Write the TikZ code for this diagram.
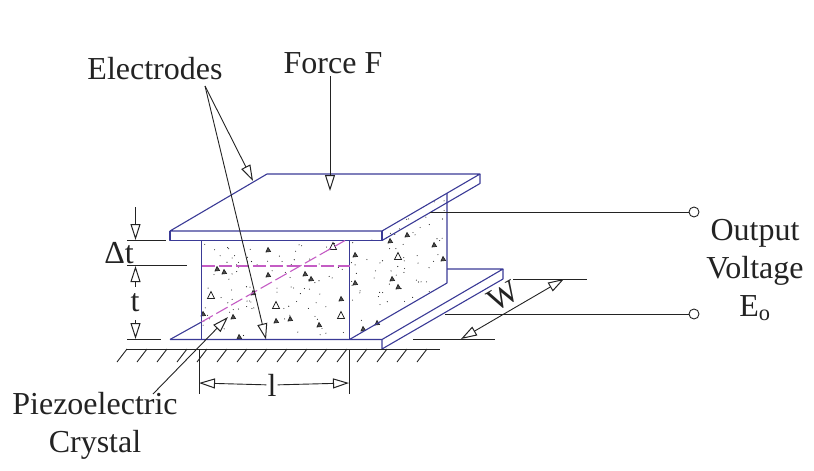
\documentclass[tikz,border=0pt]{standalone}
\usepackage{fontspec}
\setmainfont{Liberation Serif}
\usetikzlibrary{arrows.meta}
\definecolor{plateblue}{RGB}{58,58,150}
\definecolor{cutpink}{RGB}{196,92,196}
\definecolor{inkgrey}{RGB}{35,35,35}
\tikzset{
  label/.style={inner sep=1pt, text=inkgrey, font=\fontsize{32}{38}\selectfont, align=center},
  plate/.style={draw=plateblue, line width=1.1pt, line join=round},
  cut/.style={draw=cutpink, line width=1.1pt, dash pattern=on 13pt off 4pt},
  thin line/.style={draw=inkgrey, line width=0.9pt},
  pointer/.style={thin line, -{Triangle[open, fill=white, length=16pt, width=10pt, line width=1pt]}},
  both pointer/.style={thin line, {Triangle[open, fill=white, length=16pt, width=10pt, line width=1pt]}-{Triangle[open, fill=white, length=16pt, width=10pt, line width=1pt]}},
  grain/.style={draw=inkgrey, line width=0.7pt, fill=inkgrey!80},
  open grain/.style={draw=inkgrey, line width=0.8pt, fill=white},
}
\begin{document}
\begin{tikzpicture}[x=1pt, y=-1pt]
\useasboundingbox (0,0) rectangle (814,471);

% Crystal grains and dots
\pgfmathsetseed{11}
\foreach \i in {1,...,95} {
    \pgfmathsetmacro{\gx}{203+rnd*144}
    \pgfmathsetmacro{\gy}{243+rnd*94}
    \fill[inkgrey] (\gx,\gy) circle (0.55pt);
}
\foreach \i in {1,...,65} {
    \pgfmathsetmacro{\gu}{rnd}
    \pgfmathsetmacro{\gx}{351+\gu*94}
    \pgfmathsetmacro{\gy}{240-\gu*47+3+rnd*92}
    \fill[inkgrey] (\gx,\gy) circle (0.55pt);
}
\foreach \gx/\gy in {268/250, 217/269, 224/272, 268/275, 305/274, 311/279,
    355/255, 355/283, 253/293, 341/299, 203/314, 233/317,
    276/321, 290/319, 319/325, 239/337, 390/241, 407/235, 434/245, 443/259,
    392/279, 398/287, 363/329, 377/323}
    \draw[grain] (\gx-2,\gy+2) -- (\gx+2.5,\gy+1.5) -- (\gx,\gy-2.5) -- cycle;
\foreach \gx/\gy in {333/246, 211/295, 276/305, 341/315, 398/256}
    \draw[open grain] (\gx-3.5,\gy+3.5) -- (\gx+3.5,\gy+3.5) -- (\gx,\gy-3.5) -- cycle;

% Plate corners
\coordinate (tfl) at (170,231);
\coordinate (tfr) at (382,231);
\coordinate (tbr) at (480,174);
\coordinate (tbl) at (267,174);
\coordinate (bfl) at (170,339.5);
\coordinate (bfr) at (382,339.5);
\coordinate (bbr) at (503,269);

% Top electrode
\draw[plate] (tfl) -- (tbl) -- (tbr) -- (tfr) -- cycle;
\draw[plate] (tfl) -- (170,240.5) -- (382,240.5) -- (tfr);
\draw[plate] (382,240.5) -- (480,183.5) -- (tbr);

% Crystal
\draw[plate] (201.5,240.5) -- (201.5,339.5);
\draw[plate] (349.5,240.5) -- (349.5,339.5);
\draw[plate] (447,193) -- (447,283) -- (349.5,339.5);

% Bottom electrode
\draw[plate] (bfl) -- (bfr) -- (bbr) -- (447,269);
\draw[plate] (bfl) -- (201.5,322);
\draw[plate] (bfr) -- (382,349) -- (503,279) -- (bbr);

% Cut lines
\draw[cut] (201.5,266) -- (349.5,266);
\draw[cut] (201.5,322) -- (345,240.5);

% Ground
\draw[thin line] (126,349) -- (440,349);
\foreach \hx in {127,147,...,427}
    \draw[thin line] (\hx,349) -- (\hx-10,362);

% Labels
\node[label] (electrodes) at (155,69) {Electrodes};
\node[label] (force) at (333,63) {Force F};
\node[label] (deltat) at (119,253) {Δt};
\node[label] (thick) at (135,303) {t};
\node[label] (length) at (272,385) {l};
\node[label] (piezo) at (95,426) {Piezoelectric\\Crystal};
\node[label] (output) at (755,270) {Output\\Voltage\\E\textsubscript{o}};
\node[label, rotate=30] (width) at (503,296) {W};

% Electrode and force pointers
\coordinate (efoot) at (205,86);
\coordinate (etop) at (253,181);
\coordinate (ebot) at (266,339.5);
\coordinate (ftip) at (330,191);
\coordinate (pfoot) at (153,394);
\coordinate (ptip) at (228,317);
\draw[pointer] (efoot) -- (etop);
\draw[pointer] (efoot) -- (ebot);
\draw[pointer] (force.south) ++(-3,1) -- (ftip);
\draw[pointer] (pfoot) -- (ptip);

% Thickness dimensions
\draw[thin line] (127,240.5) -- (166,240.5);
\draw[thin line] (127,265.5) -- (187,265.5);
\draw[thin line] (127,339.5) -- (161,339.5);
\draw[pointer] (135.5,207) -- (135.5,240);
\draw[pointer] (135.5,287) -- (135.5,266);
\draw[pointer] (135.5,320) -- (135.5,339);

% Length dimension
\coordinate (lleft) at (199,383);
\coordinate (lright) at (349,383);
\draw[thin line] (199,349) -- (199,394);
\draw[thin line] (349,349) -- (349,394);
\draw[pointer] (length) -- (lleft);
\draw[pointer] (length) -- (lright);

% Width dimension
\coordinate (wlow) at (461,339);
\coordinate (whigh) at (564,279);
\draw[thin line] (513,279) -- (587,279);
\draw[thin line] (413,339) -- (495,339);
\draw[both pointer] (wlow) -- (whigh);

% Output terminals
\node[draw=inkgrey, line width=0.9pt, circle, minimum size=10pt, inner sep=0pt] (outa) at (694,212) {};
\node[draw=inkgrey, line width=0.9pt, circle, minimum size=10pt, inner sep=0pt] (outb) at (694,314) {};
\coordinate (wirea) at (430,212);
\coordinate (wireb) at (445,314);
\draw[thin line] (wirea) -- (outa);
\draw[thin line] (wireb) -- (outb);
\end{tikzpicture}
\end{document}
